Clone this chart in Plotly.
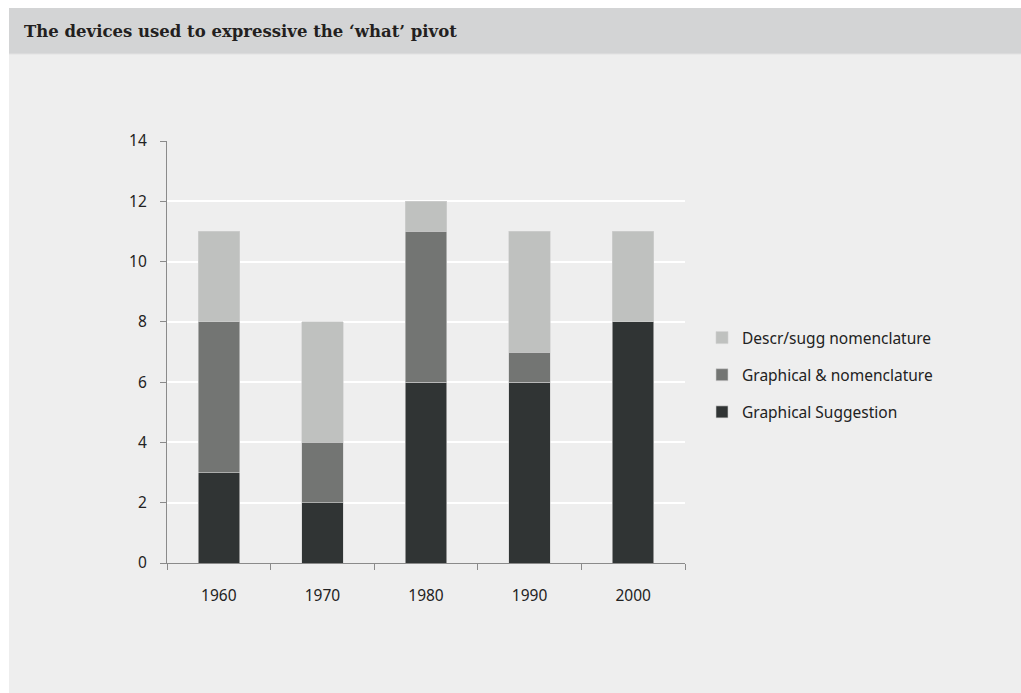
import plotly.graph_objects as go

years = ["1960", "1970", "1980", "1990", "2000"]
graphical_suggestion = [3, 2, 6, 6, 8]
graphical_nomenclature = [5, 2, 5, 1, 0]
descr_sugg_nomenclature = [3, 4, 1, 4, 3]
y_ticks = [0, 2, 4, 6, 8, 10, 12, 14]

W, H = 1021, 693
L, R, T, B = 167, 685, 141, 563

def px(x):
    return (x - L) / (R - L)

def py(y):
    return (B - y) / (B - T)

fig = go.Figure()
series = [
    ("Graphical Suggestion", graphical_suggestion, "#303434", 3),
    ("Graphical & nomenclature", graphical_nomenclature, "#737573", 2),
    ("Descr/sugg nomenclature", descr_sugg_nomenclature, "#bfc1bf", 1),
]
for name, vals, col, rank in series:
    fig.add_trace(go.Bar(
        x=years, y=vals, name=name, legendgroup=name, legendrank=rank,
        marker=dict(color=col, line=dict(color="#d2d2d2", width=0.6)),
    ))

font_sans = "Noto Sans, Liberation Sans, sans-serif"
fig.update_layout(
    width=W, height=H,
    margin=dict(l=L, r=W - R, t=T, b=H - B),
    paper_bgcolor="white",
    plot_bgcolor="#eeeeee",
    barmode="stack",
    bargap=0.6,
    showlegend=True,
    legend=dict(
        x=px(702), y=py(321), xanchor="left", yanchor="top",
        traceorder="grouped", tracegroupgap=14,
        font=dict(family=font_sans, size=15.5, color="#222222"),
        bgcolor="rgba(0,0,0,0)", itemwidth=30,
    ),
    font=dict(family=font_sans, size=15.5, color="#222222"),
    shapes=[
        dict(type="rect", xref="paper", yref="paper", layer="below",
             x0=px(9), x1=px(1022), y0=py(694), y1=py(8),
             fillcolor="#eeeeee", line=dict(width=0)),
        dict(type="rect", xref="paper", yref="paper", layer="below",
             x0=px(9), x1=px(1022), y0=py(54), y1=py(8),
             fillcolor="#d3d4d5", line=dict(width=0)),
        dict(type="line", xref="paper", yref="paper", layer="below",
             x0=px(9), x1=px(1022), y0=py(54), y1=py(54),
             line=dict(color="#e2e2e2", width=1)),
    ],
    annotations=[
        dict(text="<b>The devices used to expressive the \u2018what\u2019 pivot</b>",
             xref="paper", yref="paper", x=px(22), y=py(31),
             xanchor="left", yanchor="middle", showarrow=False,
             font=dict(family="DejaVu Serif, Liberation Serif, serif", size=16.5, color="#231f20")),
    ],
)
fig.update_xaxes(
    showline=True, linecolor="#8a8a8a", linewidth=1.2,
    ticks="outside", tickson="boundaries", ticklen=6, tickcolor="#8a8a8a",
    showgrid=False, tickfont=dict(size=15.5), ticklabelstandoff=18,
)
fig.update_yaxes(
    range=[0, 14], tickvals=y_ticks,
    showline=True, linecolor="#8a8a8a", linewidth=1.2,
    ticks="outside", ticklen=6, tickcolor="#8a8a8a",
    showgrid=True, gridcolor="white", gridwidth=1.5,
    zeroline=False, tickfont=dict(size=15.5), ticklabelstandoff=10,
)
fig.write_html("out.html")
